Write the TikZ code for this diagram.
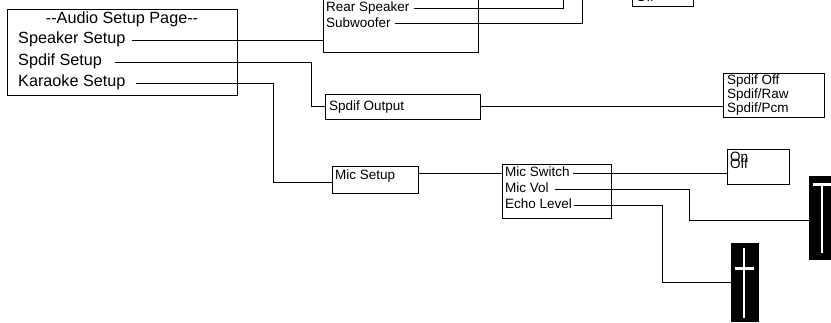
\documentclass[tikz,border=0pt]{standalone}
\usepackage{fontspec}
\setmainfont{Liberation Sans}
\usetikzlibrary{positioning}

\begin{document}
\begin{tikzpicture}[x=1pt, y=-1pt,
    box/.style={draw, line width=1pt, inner sep=0pt},
    item/.style={anchor=west, inner sep=0pt, text height=0.72em, text depth=0pt,
      font=\fontsize{13.5}{14}\selectfont},
    bigitem/.style={item, font=\fontsize{16.2}{18}\selectfont},
    wire/.style={line width=1pt},
    slider/.style={fill=black, draw=none, inner sep=0pt},
    knob/.style={white, line width=3pt},
    track/.style={white, line width=2pt}]
    \useasboundingbox (0,0) rectangle (831,322);
    \clip (0,0) rectangle (831,322);

    % Cuadro principal
    \node[box, minimum width=230pt, minimum height=86pt] (setup) at (122,52) {};
    \node[bigitem, anchor=center] (title) at (122,20) {-\kern0pt-Audio Setup Page-\kern0pt-};
    \node[bigitem] (spk) at (18,40) {Speaker Setup};
    \node[bigitem] (spd) at (18,62) {Spdif Setup};
    \node[bigitem] (kar) at (18,83) {Karaoke Setup};

    % Altavoces (cortado arriba)
    \node[box, minimum width=155pt, minimum height=82pt] (spkbox) at (400.5,11) {};
    \node[item] (rear) at (326,8) {Rear Speaker};
    \node[item] (sub) at (326,23.5) {Subwoofer};
    \coordinate (reartop) at (563,-5);
    \coordinate (subtop) at (582,-5);
    \draw[wire] ([xshift=6pt]spk.east) -- (spk.east -| spkbox.west);
    \draw[wire] ([xshift=4pt]rear.east) -| (reartop);
    \draw[wire] ([xshift=4.5pt]sub.east) -| (subtop);

    % Cuadro de arriba a la derecha
    \node[box, minimum width=61pt, minimum height=36pt] (offbox) at (662.5,-12) {};
    \node[item] (offon) at (636,-9) {On};
    \node[item] (offoff) at (636,-2) {Off};

    % Spdif
    \node[box, minimum width=155pt, minimum height=25pt] (spdout) at (402.5,106.5) {};
    \node[item] (spdtxt) at (329,107) {Spdif Output};
    \draw[wire] ([xshift=13pt]spd.east) -- ++(196,0) |- (spdout.west);
    \node[box, minimum width=101pt, minimum height=44pt] (spdopt) at (773.5,95) {};
    \node[item] (soff) at (727,81) {Spdif Off};
    \node[item] (sraw) at (727,95) {Spdif/Raw};
    \node[item] (spcm) at (727,109) {Spdif/Pcm};
    \draw[wire] (spdout.east) -- (spdout.east -| spdopt.west);

    % Karaoke y microfono
    \node[box, minimum width=86pt, minimum height=27pt] (micset) at (375,179.5) {};
    \node[item] (mictxt) at (335,176) {Mic Setup};
    \draw[wire] ([xshift=10pt]kar.east) -- ++(138,0) |- ([yshift=-2.5pt]micset.west);
    \node[box, minimum width=109pt, minimum height=54pt] (mic) at (556.5,191) {};
    \node[item] (micsw) at (505,173) {Mic Switch};
    \node[item] (micvol) at (505,189) {Mic Vol};
    \node[item] (echo) at (505,205) {Echo Level};
    \draw[wire] ([yshift=6.5pt]micset.east) -- ([yshift=6.5pt]micset.east -| mic.west);

    % On / Off
    \node[box, minimum width=62pt, minimum height=35pt] (onoff) at (758,166.5) {};
    \node[item] (on) at (730,158) {On};
    \node[item] (off) at (730,165) {Off};
    \draw[wire] ([xshift=3.5pt]micsw.east) -- (micsw.east -| onoff.west);

    % Deslizadores
    \node[slider, minimum width=26pt, minimum height=84pt] (volbar) at (822,218) {};
    \node[slider, minimum width=28pt, minimum height=79pt] (echobar) at (745,282.5) {};
    \draw[knob] (813,184.5) -- (831,184.5);
    \draw[track] (822,184) -- (822,253);
    \draw[knob] (735,268) -- (754,268);
    \draw[track] (744,248) -- (744,318);
    \draw[wire] ([xshift=6pt]micvol.east) -- ++(135,0) |- ([yshift=-2pt]volbar.west);
    \draw[wire] ([xshift=2pt]echo.east) -- ++(88,0) |- (echobar.west);
\end{tikzpicture}
\end{document}
